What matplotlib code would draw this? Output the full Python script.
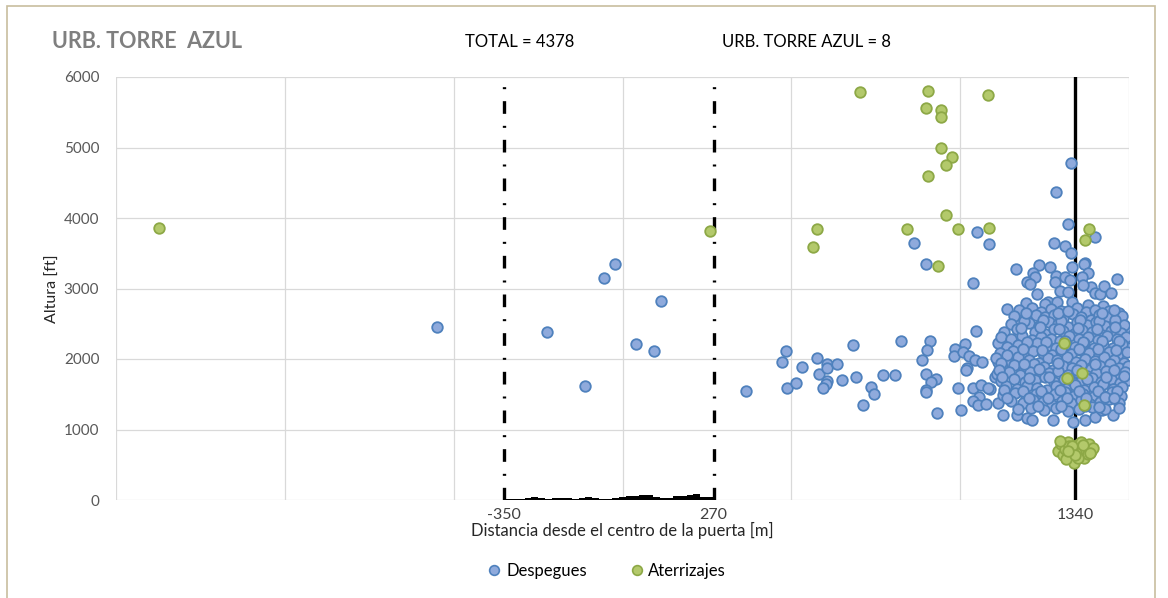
import numpy as np
import matplotlib
matplotlib.use('Agg')
import matplotlib.pyplot as plt
from matplotlib.lines import Line2D
from matplotlib.patches import Rectangle

plt.rcParams['font.family'] = ['Lato', 'DejaVu Sans']
plt.rcParams['axes.unicode_minus'] = False

# Despegues (distancia [m], altura [ft])
despegues = [
    # puntos dispersos
    (-549, 2460), (-225, 2385), (-110, 1620), (-56, 3150), (-21, 3345), (39, 2215), (92, 2115),
    (113, 2825), (365, 1550), (483, 2113), (472, 1960), (486, 1590), (513, 1660), (531, 1885),
    (575, 2015), (581, 1790), (605, 1930), (605, 1870), (605, 1690), (602, 1645), (593, 1590),
    (635, 1930), (650, 1700), (682, 2200), (691, 1745), (712, 1345), (736, 1600), (744, 1505),
    (771, 1775), (807, 1775), (825, 2255), (863, 3645), (887, 1985), (899, 3345), (911, 2255),
    (902, 2130), (899, 1790), (928, 1715), (914, 1675), (899, 1560), (899, 1530), (931, 1240),
    (1038, 3080), (1047, 2400), (1014, 2210), (985, 2140), (982, 2045), (1008, 2100), (1026, 2045),
    (1044, 1985), (1065, 1960), (1020, 1870), (1017, 1845), (994, 1590), (1038, 1590), (1062, 1630),
    (1089, 1575), (1056, 1460), (1038, 1405), (1053, 1350), (1077, 1360), (1002, 1275), (1112, 1375),
    (1103, 1745), (1112, 1960), (1112, 2225), (1050, 3800), (1086, 3630),
    # parte alta del grupo
    (1329, 4775), (1284, 4365), (1320, 3915), (1400, 3730), (1278, 3645), (1311, 3600), (1329, 3500),
    (1166, 3275), (1234, 3335), (1267, 3305), (1370, 3360), (1332, 3305), (1465, 3135), (1216, 3220),
    (1222, 3160), (1198, 3090), (1207, 3065), (1284, 3175), (1281, 3090), (1311, 3160), (1326, 3120),
    (1367, 3345), (1379, 3220), (1361, 3160), (1388, 3020), (1364, 3050), (1400, 2935), (1415, 2920),
    (1427, 3035), (1447, 2935), (1228, 2920), (1296, 2965), (1320, 2950), (1261, 2810), (1287, 2810),
    (1252, 2780), (1332, 2810), (1379, 2765), (1424, 2750), (1195, 2795), (1139, 2710),
    (1450, 2580), (1468, 2565), (1489, 2440), (1498, 2155), (1154, 2225), (1178, 2550), (1178, 2410),
    (1127, 1205), (1169, 1205), (1198, 1165), (1213, 1135), (1275, 1135), (1335, 1105), (1370, 1135),
    (1400, 1175), (1453, 1205), (1421, 1275), (1083, 1590),
    # nucleo denso
    (1175, 2690), (1212, 2720), (1240, 2665), (1268, 2705), (1300, 2680), (1345, 2720), (1372, 2670),
    (1398, 2700), (1440, 2680), (1470, 2650),
    (1160, 2610), (1195, 2580), (1224, 2630), (1251, 2595), (1279, 2620), (1306, 2575), (1333, 2635),
    (1358, 2600), (1386, 2560), (1412, 2625), (1436, 2590), (1480, 2610),
    (1150, 2490), (1205, 2510), (1233, 2470), (1262, 2530), (1291, 2495), (1318, 2460), (1347, 2520),
    (1376, 2485), (1403, 2530), (1430, 2470), (1458, 2505), (1485, 2480),
    (1130, 2380), (1168, 2420), (1222, 2390), (1250, 2360), (1279, 2430), (1306, 2395), (1336, 2355),
    (1362, 2415), (1391, 2380), (1419, 2345), (1446, 2400), (1475, 2370),
    (1122, 2310), (1150, 2280), (1184, 2330), (1212, 2270), (1240, 2310), (1268, 2290), (1296, 2250),
    (1323, 2320), (1352, 2280), (1380, 2305), (1407, 2265), (1436, 2330), (1463, 2290), (1490, 2310),
    (1140, 2170), (1172, 2205), (1200, 2160), (1229, 2220), (1257, 2180), (1285, 2150), (1312, 2210),
    (1340, 2175), (1368, 2225), (1396, 2160), (1424, 2195), (1452, 2150), (1480, 2210),
    (1118, 2090), (1155, 2110), (1186, 2060), (1215, 2120), (1244, 2080), (1272, 2050), (1300, 2110),
    (1327, 2070), (1355, 2125), (1383, 2085), (1411, 2050), (1440, 2105), (1468, 2070), (1494, 2100),
    (1105, 2010), (1138, 1975), (1170, 2030), (1203, 1990), (1232, 1950), (1260, 2015), (1288, 1980),
    (1316, 2030), (1344, 1960), (1371, 2000), (1399, 1970), (1427, 2025), (1456, 1985), (1484, 1950),
    (1125, 1880), (1160, 1910), (1190, 1870), (1219, 1925), (1247, 1890), (1276, 1850), (1304, 1905),
    (1331, 1870), (1359, 1920), (1387, 1860), (1415, 1895), (1443, 1930), (1471, 1875), (1497, 1900),
    (1110, 1790), (1146, 1820), (1178, 1770), (1206, 1810), (1235, 1760), (1263, 1800), (1291, 1830),
    (1319, 1775), (1347, 1815), (1375, 1760), (1403, 1800), (1431, 1835), (1459, 1785), (1487, 1810),
    (1122, 1690), (1158, 1720), (1193, 1670), (1222, 1705), (1250, 1740), (1279, 1680), (1307, 1710),
    (1334, 1655), (1362, 1700), (1390, 1735), (1418, 1675), (1446, 1710), (1474, 1660), (1496, 1700),
    (1135, 1610), (1168, 1575), (1199, 1620), (1228, 1590), (1256, 1555), (1284, 1610), (1312, 1580),
    (1340, 1625), (1368, 1560), (1396, 1600), (1424, 1640), (1452, 1570), (1480, 1605),
    (1128, 1490), (1163, 1520), (1195, 1470), (1224, 1505), (1253, 1460), (1281, 1500), (1309, 1535),
    (1337, 1475), (1365, 1510), (1393, 1455), (1421, 1495), (1449, 1530), (1477, 1480),
    (1150, 1400), (1185, 1370), (1216, 1415), (1245, 1385), (1273, 1350), (1301, 1410), (1329, 1375),
    (1357, 1420), (1385, 1360), (1413, 1395), (1441, 1430), (1469, 1380),
    (1170, 1290), (1210, 1310), (1248, 1270), (1283, 1305), (1318, 1260), (1352, 1295), (1389, 1320),
    (1430, 1285), (1470, 1300),
    # relleno entre filas
    (1190, 2545), (1245, 2560), (1300, 2540), (1355, 2555), (1410, 2545), (1460, 2560),
    (1180, 2440), (1237, 2450), (1292, 2425), (1349, 2445), (1404, 2430), (1458, 2450),
    (1198, 2235), (1254, 2245), (1310, 2260), (1365, 2240), (1420, 2250), (1470, 2255),
    (1185, 2135), (1242, 2130), (1298, 2145), (1352, 2135), (1408, 2140), (1462, 2130),
    (1190, 1935), (1232, 1855), (1290, 1940), (1345, 1850), (1400, 1935), (1455, 1845),
    (1205, 1735), (1262, 1745), (1320, 1730), (1375, 1720), (1432, 1745), (1485, 1755),
    (1185, 1545), (1240, 1540), (1296, 1560), (1352, 1545), (1408, 1550), (1465, 1540),
    (1205, 1440), (1260, 1445), (1315, 1450), (1372, 1440), (1428, 1455), (1455, 1440),
    (1230, 1330), (1300, 1335), (1370, 1340), (1410, 1320),
    (1195, 2655), (1290, 2650), (1320, 2680), (1420, 2655), (1455, 2700),
    (1140, 2050), (1130, 1560), (1140, 1440), (1120, 1950), (1115, 1850), (1125, 1750),
]

# Aterrizajes (distancia [m], altura [ft])
aterrizajes = [
    (-1373, 3860), (258, 3815), (575, 3845), (563, 3590), (703, 5790), (905, 5800), (899, 5560),
    (943, 5530), (943, 5435), (943, 4990), (976, 4865), (958, 4750), (905, 4595), (1083, 5745),
    (842, 3845), (958, 4040), (994, 3845), (1086, 3855), (934, 3320), (1382, 3840), (1370, 3685),
    (1308, 2225), (1361, 1800), (1317, 1730), (1367, 1345),
    (1290, 700), (1300, 790), (1305, 640), (1310, 720), (1318, 820), (1322, 760), (1328, 680),
    (1333, 600), (1336, 530), (1340, 710), (1345, 780), (1350, 650), (1355, 740), (1358, 820),
    (1362, 690), (1366, 600), (1370, 760), (1374, 710), (1378, 650), (1382, 800), (1386, 700),
    (1392, 740), (1296, 830), (1312, 580), (1348, 600), (1330, 770), (1365, 780), (1340, 640),
    (1320, 690), (1385, 660),
]

# Perfil bajo la puerta (centro de intervalo [m], altura [ft])
perfil_x = [-340, -320, -300, -280, -260, -240, -220, -200, -180, -160, -140, -120, -100, -80, -60, -40,
            -20, 0, 20, 40, 60, 80, 100, 120, 140, 160, 180, 200, 220, 240, 260]
perfil_h = [20, 12, 12, 28, 40, 35, 14, 28, 32, 30, 14, 32, 38, 26, 10, 8,
            32, 38, 60, 55, 70, 70, 40, 30, 35, 55, 60, 75, 80, 45, 40]

limites_puerta = [-350, 270]
referencia = 1340
xticks_lab = [-350, 270, 1340]
total = 4378
urb_count = 8

dx, dy = zip(*despegues)
ax_, ay_ = zip(*aterrizajes)

fig = plt.figure(figsize=(11.68, 5.98), dpi=100)
ax = fig.add_axes([116 / 1168, 1 - 500 / 598, (1129 - 116) / 1168, (500 - 77) / 598])

ax.set_xlim(-1500, 1500)
ax.set_ylim(0, 6000)
ax.set_yticks(np.arange(0, 6001, 1000))
ax.set_xticks(xticks_lab)
ax.set_xticks(np.arange(-1500, 1501, 500), minor=True)
ax.grid(which='major', axis='y', color='#D9D9D9', linewidth=0.9, zorder=0)
ax.grid(which='minor', axis='x', color='#D9D9D9', linewidth=0.9, zorder=0)
ax.set_axisbelow(True)
for s in ax.spines.values():
    s.set_visible(False)
ax.tick_params(which='both', length=0)
ax.tick_params(axis='y', labelsize=11, labelcolor='#595959', pad=12)
ax.tick_params(axis='x', labelsize=11.5, labelcolor='#404040', pad=6)

for xl in limites_puerta:
    ax.axvline(xl, color='black', linewidth=2.4, linestyle=(0, (3.8, 3.6, 0.6, 3.6)), zorder=2)
ax.axvline(referencia, color='black', linewidth=2.4, zorder=2)

ax.bar(perfil_x, perfil_h, width=20, color='black', zorder=3)

ax.scatter(dx, dy, s=58, facecolor='#8FAADC', edgecolor='#4F81BD', linewidth=1.3, zorder=4)
ax.scatter(ax_, ay_, s=58, facecolor='#B3C96B', edgecolor='#8DA846', linewidth=1.3, zorder=5)

ax.set_ylabel('Altura [ft]', fontsize=11.5, color='#262626', labelpad=3)
ax.set_xlabel('Distancia desde el centro de la puerta [m]', fontsize=12, color='#262626', labelpad=0)

fig.text(52 / 1168, 1 - 42 / 598, 'URB. TORRE  AZUL', fontsize=15.5, fontweight='bold',
         color='#7F7F7F', va='center', ha='left')
fig.text(465 / 1168, 1 - 42 / 598, f'TOTAL = {total}', fontsize=12, color='black',
         va='center', ha='left')
fig.text(722 / 1168, 1 - 42 / 598, f'URB. TORRE AZUL = {urb_count}', fontsize=12, color='black',
         va='center', ha='left')

handles = [
    Line2D([], [], marker='o', linestyle='none', markersize=7, markerfacecolor='#8FAADC',
           markeredgecolor='#4F81BD', markeredgewidth=1.2, label='Despegues'),
    Line2D([], [], marker='o', linestyle='none', markersize=7, markerfacecolor='#B3C96B',
           markeredgecolor='#8DA846', markeredgewidth=1.2, label='Aterrizajes'),
]
fig.legend(handles=handles, loc='center', bbox_to_anchor=(607 / 1168, 1 - 571 / 598), ncol=2,
           frameon=False, fontsize=12, handlelength=0.8, handletextpad=0.3, columnspacing=2.6)

fig.patches.append(Rectangle((7 / 1168, -0.01), (1155 - 7) / 1168, 1 - 6 / 598 + 0.01,
                             transform=fig.transFigure, fill=False, edgecolor='#C8BE9E',
                             linewidth=1.2))

fig.savefig('out.png', dpi=100)
